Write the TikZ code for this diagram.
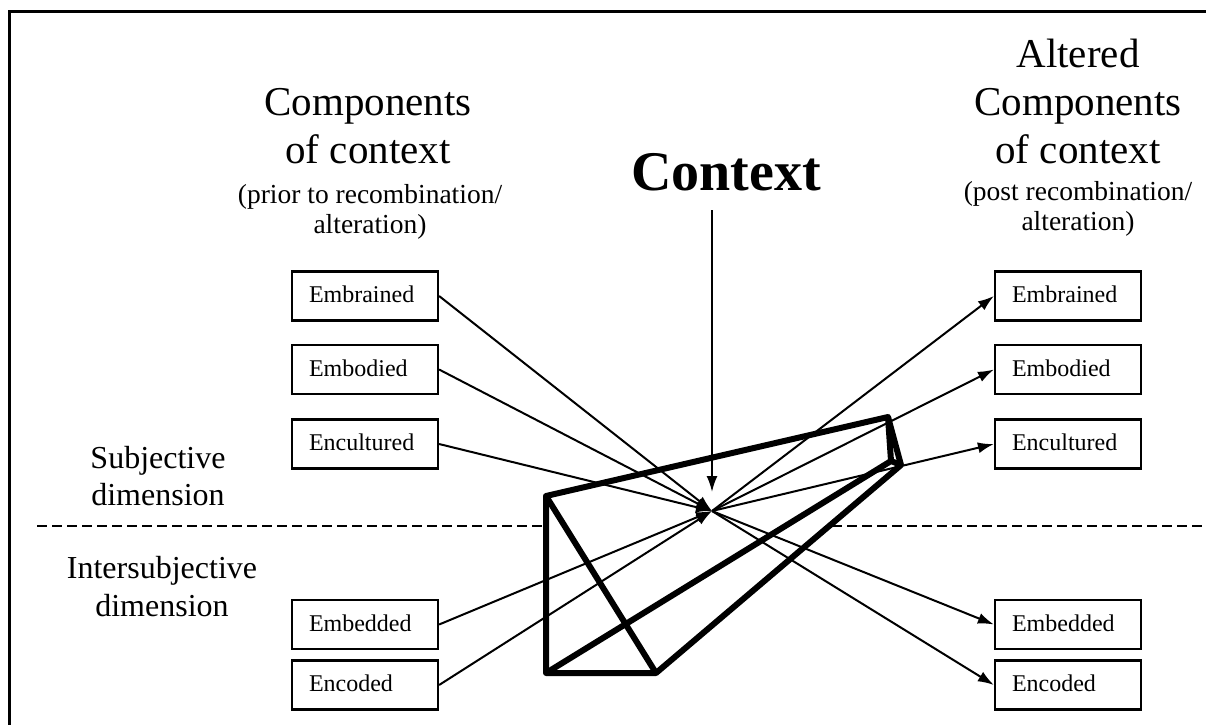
\documentclass[tikz,border=0pt]{standalone}
\usepackage{fontspec}
\setmainfont{Liberation Serif}
\usetikzlibrary{arrows.meta}

\begin{document}
\begin{tikzpicture}[x=1pt, y=-1pt,
	comp/.style={draw, line width=2.2pt, minimum height=49pt, text width=112pt, inner xsep=17pt,
		align=left, text height=17pt, text depth=4pt, font=\fontsize{24}{26}\selectfont},
	bigline/.style={anchor=base, font=\fontsize{41}{48}\selectfont},
	smallline/.style={anchor=base, font=\fontsize{27.5}{30}\selectfont},
	dimline/.style={anchor=base, font=\fontsize{32}{38}\selectfont},
	link/.style={line width=2pt, -{Latex[length=16pt,width=11pt]}}]
\useasboundingbox (0,0) rectangle (1206,724);

% draw frame
\draw[line width=3pt] (9,740) -- (9,11) -- (1220,11);

% draw titles
\node[bigline] (lt1) at (368,115) {Components};
\node[bigline] (lt2) at (368,163) {of context};
\node[smallline] (lt3) at (370,203) {(prior to recombination/};
\node[smallline] (lt4) at (370,233) {alteration)};

\node[bigline] (rt0) at (1078,67) {Altered};
\node[bigline] (rt1) at (1078,115) {Components};
\node[bigline] (rt2) at (1078,163) {of context};
\node[smallline] (rt3) at (1078,200) {(post recombination/};
\node[smallline] (rt4) at (1078,230) {alteration)};

\node[anchor=base, font=\fontsize{56}{60}\selectfont\bfseries] (ctx) at (726,190) {Context};

% draw dimensions
\node[dimline] (sub1) at (158,468) {Subjective};
\node[dimline] (sub2) at (158,505) {dimension};
\node[dimline] (int1) at (162,578) {Intersubjective};
\node[dimline] (int2) at (162,616) {dimension};

\draw[line width=2pt, dash pattern=on 10pt off 5pt] (37,526) -- (1210,526);

% draw wedge
\coordinate (p1) at (546,496);
\coordinate (p2) at (888,417);
\coordinate (p3) at (901,465);
\coordinate (p4) at (656,673);
\coordinate (p5) at (546,673);
\coordinate (q) at (891,461);
\filldraw[fill=white, line width=6pt, line join=round] (p1) -- (p2) -- (p3) -- (p4) -- (p5) -- cycle;
\draw[line width=6pt, line join=round] (p1) -- (p4) (p5) -- (q) (p2) -- (q) -- (p3);

% draw boxes
\node[comp] (lbrain) at (365,296) {Embrained};
\node[comp] (lbody) at (365,369.5) {Embodied};
\node[comp] (lcult) at (365,444) {Encultured};
\node[comp] (lbed) at (365,624.5) {Embedded};
\node[comp] (lcode) at (365,685) {Encoded};

\node[comp] (rbrain) at (1068,296) {Embrained};
\node[comp] (rbody) at (1068,369.5) {Embodied};
\node[comp] (rcult) at (1068,444) {Encultured};
\node[comp] (rbed) at (1068,624.5) {Embedded};
\node[comp] (rcode) at (1068,685) {Encoded};

% draw links
\coordinate (hub) at (712,511);
\coordinate (ctxfoot) at (712,210);
\draw[link, shorten >=19pt] (ctxfoot) -- (hub);
\foreach \src in {lbrain,lbody,lcult,lbed,lcode}
	\draw[link] (\src.east) -- (hub);
\foreach \dst in {rbrain,rbody,rcult,rbed,rcode}
	\draw[link] (hub) -- (\dst.west);
\end{tikzpicture}
\end{document}
